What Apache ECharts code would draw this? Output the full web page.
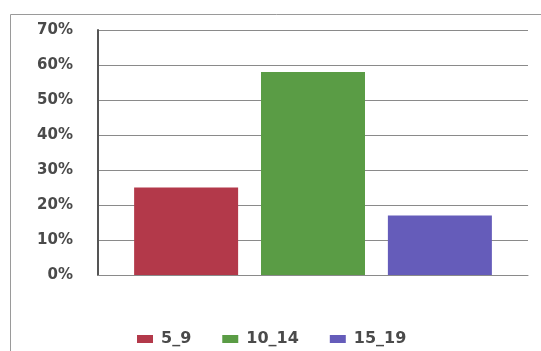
<!DOCTYPE html>
<html>
<head>
<meta charset="utf-8">
<script src="https://cdn.jsdelivr.net/npm/echarts@6/dist/echarts.min.js"></script>
<style>
  html, body { margin: 0; padding: 0; background: #fff; }
  #chart { width: 541px; height: 351px; }
</style>
</head>
<body>
<div id="chart"></div>
<script>
// Age groups and their shares (percent)
const groups = ['5_9', '10_14', '15_19'];
const shares = [25, 58, 17];
const groupColors = ['#b3394a', '#5a9c45', '#655cba'];
const yTicks = [0, 10, 20, 30, 40, 50, 60, 70];

const chart = echarts.init(document.getElementById('chart'));

const series = groups.map((name, i) => ({
  name: name,
  type: 'bar',
  data: [shares[i]],
  barWidth: 104,
  barGap: '22%',
  itemStyle: { color: groupColors[i] }
}));

chart.setOption({
  animation: false,
  backgroundColor: '#fff',
  grid: { left: 98, right: 13, top: 30, bottom: 76 },
  graphic: [{
    type: 'rect',
    shape: { x: 10.5, y: 14.5, width: 540, height: 345 },
    style: { fill: 'none', stroke: '#9a9a9a', lineWidth: 1 },
    silent: true
  }],
  legend: {
    data: groups,
    top: 331,
    left: 137,
    padding: 0,
    itemWidth: 16,
    itemHeight: 8,
    itemGap: 31,
    icon: 'rect',
    textStyle: { fontFamily: 'DejaVu Sans', fontWeight: 'bold', fontSize: 16, color: '#4a4a4a', padding: [0, 0, 0, 3] }
  },
  xAxis: {
    type: 'category',
    data: [''],
    axisLine: { lineStyle: { color: '#8a8a8a' } },
    axisTick: { show: false },
    axisLabel: { show: false }
  },
  yAxis: {
    type: 'value',
    min: yTicks[0],
    max: yTicks[yTicks.length - 1],
    interval: 10,
    axisLine: { show: true, lineStyle: { color: '#555', width: 2 } },
    axisTick: { show: false },
    axisLabel: {
      formatter: '{value}%',
      fontFamily: 'DejaVu Sans',
      fontWeight: 'bold',
      fontSize: 15,
      color: '#4a4a4a',
      margin: 25
    },
    splitLine: { lineStyle: { color: '#8a8a8a' } }
  },
  series: series
});
</script>
</body>
</html>
